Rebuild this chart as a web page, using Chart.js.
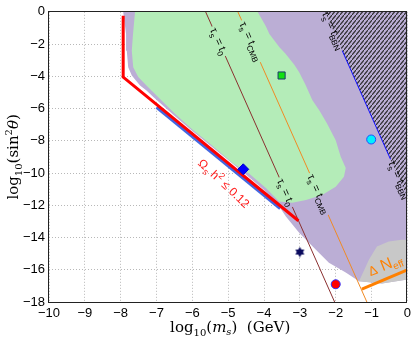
<!DOCTYPE html>
<html>
<head>
<meta charset="utf-8">
<script src="https://cdn.jsdelivr.net/npm/chart.js@4.4.1/dist/chart.umd.min.js"></script>
<style>
  html, body { margin: 0; padding: 0; background: #fff; }
  #wrap { width: 415px; height: 339px; }
</style>
</head>
<body>
<div id="wrap"><canvas id="chart" width="415" height="339"></canvas></div>
<script>
// axis ranges: log10(m_s / GeV) and log10(sin^2 theta)
const massRange = [-10, 0];
const mixRange = [-18, 0];
const massStep = 1;
const mixStep = 2;

// regions, points are [log10 ms, log10 sin^2]
const purpleRegion = [
  [-7.93, 0], [0, 0], [0, -16.6], [-0.71, -16.85], [-1.35, -16.71], [-1.72, -16.17],
  [-2.19, -15.56], [-2.56, -14.75], [-3.02, -13.70], [-3.39, -12.70], [-3.6, -12.0],
  [-4.0, -11.05], [-4.5, -10.1], [-5.0, -9.2], [-5.5, -8.3], [-6.0, -7.4], [-6.5, -6.45],
  [-7.09, -5.29], [-7.28, -4.88], [-7.46, -4.57], [-7.69, -3.95], [-7.79, -3.44],
  [-7.83, -2.41], [-7.85, -1.38], [-7.93, 0]
];
const greenRegion = [
  [-7.6, 0], [-4.18, 0], [-3.95, -0.9], [-3.85, -1.38], [-3.57, -2.2], [-3.4, -2.6],
  [-3.15, -3.3], [-3.02, -3.75], [-2.85, -4.5], [-2.65, -5.49], [-2.46, -6.11],
  [-2.25, -6.9], [-2.0, -7.96], [-1.86, -8.99], [-1.72, -9.69], [-1.77, -10.23],
  [-2.0, -10.85], [-2.38, -11.36], [-2.83, -11.67], [-3.21, -11.85], [-3.58, -11.77],
  [-3.94, -10.95], [-4.41, -10.05], [-4.87, -9.4], [-5.5, -8.2], [-6.0, -7.3],
  [-6.5, -6.3], [-7.0, -5.19], [-7.28, -4.57], [-7.51, -4.05], [-7.65, -3.44],
  [-7.69, -2.41], [-7.66, -1.5], [-7.6, 0]
];
const greyRegion = [
  [-1.35, -16.71], [-1.22, -16.1], [-1.07, -15.37], [-0.85, -14.55], [-0.52, -14.24],
  [-0.16, -14.14], [0, -14.14], [0, -16.6], [-0.71, -16.85], [-1.35, -16.71]
];
const bbnRegion = [[-2.30, 0], [0, 0], [0, -11.5]];

// relic abundance bound and Neff bound
const omegaLine = [[-7.93, -0.25], [-7.93, -4.05], [-3.04, -12.96]];
const omegaBand = [[-7.0, -5.92], [-3.55, -12.2]];
const dNeffLine = [[-1.27, -17.2], [0, -16.0]];

// lifetime lines tau_s = t
const lineT0 = [[-5.63, 0], [-2.03, -18]];
const lineCMB = [[-4.73, 0], [-1.13, -18]];
const lineBBN = [[-2.30, 0], [0, -11.5]];
// heights (log10 sin^2) where the line labels sit
const labelT0 = [-1.83, -11.19];
const labelCMB = [-1.83, -11.3];
const labelBBN = [-1.15, -10.4];

// benchmark points
const ptSquare = [[-3.51, -3.95]];
const ptCyan = [[-1.01, -7.92]];
const ptDiamond = [[-4.58, -9.77]];
const ptStar = [[-3.0, -14.9]];
const ptRed = [[-2.0, -16.9]];

const SANS = '"Liberation Sans", Arial, sans-serif';
const SERIF = '"DejaVu Serif", serif';

const xy = pts => pts.map(p => ({x: p[0], y: p[1]}));

const ctx = document.getElementById('chart').getContext('2d');

function hatchPattern() {
  const c = document.createElement('canvas');
  c.width = 4; c.height = 5;
  const g = c.getContext('2d');
  g.fillStyle = '#bbaed5';
  g.fillRect(0, 0, 4, 5);
  g.strokeStyle = '#2a2a2a';
  g.lineWidth = 1.1;
  g.beginPath();
  g.moveTo(-1, 6.25);
  g.lineTo(5, -1.25);
  g.stroke();
  return ctx.createPattern(c, 'repeat');
}

function starImage() {
  const c = document.createElement('canvas');
  c.width = 11; c.height = 11;
  const g = c.getContext('2d');
  g.fillStyle = '#0b0b5e';
  [-Math.PI / 2, Math.PI / 2].forEach(a0 => {
    g.beginPath();
    for (let k = 0; k < 3; k++) {
      const a = a0 + k * 2 * Math.PI / 3;
      g.lineTo(5.5 + 5.2 * Math.cos(a), 5.5 + 5.2 * Math.sin(a));
    }
    g.closePath();
    g.fill();
  });
  return c;
}

const region = (label, pts, color, order) => ({
  label, data: xy(pts), showLine: true, fill: 'shape', backgroundColor: color,
  borderColor: 'transparent', borderWidth: 0, pointRadius: 0, order
});
const curve = (label, pts, color, width, order) => ({
  label, data: xy(pts), showLine: true, fill: false, borderColor: color,
  borderWidth: width, pointRadius: 0, order
});
const marker = (label, pts, style, radius, bg, border, order) => ({
  label, data: xy(pts), showLine: false, pointStyle: style, pointRadius: radius,
  backgroundColor: bg, borderColor: border, borderWidth: 1, order
});

const tauLabels = [
  {ds: 'tau0', line: lineT0, at: labelT0, sub: '0'},
  {ds: 'tauCMB', line: lineCMB, at: labelCMB, sub: 'CMB'},
  {ds: 'tauBBN', line: lineBBN, at: labelBBN, sub: 'BBN'}
];

function tauParts(sub) {
  return [
    {t: 'τ', font: '11px ' + SANS, dy: 0},
    {t: 's', font: '8px ' + SANS, dy: 3},
    {t: ' = t', font: '11px ' + SANS, dy: 0},
    {t: sub, font: '8px ' + SANS, dy: 3}
  ];
}

function richWidth(c, parts) {
  let w = 0;
  parts.forEach(p => { c.font = p.font; w += c.measureText(p.t).width; });
  return w;
}

function drawRich(c, parts, x, y, angle, color, base) {
  const w = richWidth(c, parts);
  c.save();
  c.translate(x, y);
  c.rotate(angle);
  c.fillStyle = color;
  c.textBaseline = 'alphabetic';
  c.textAlign = 'left';
  let cx = -w / 2;
  parts.forEach(p => {
    c.font = p.font;
    c.fillText(p.t, cx, base + p.dy);
    cx += c.measureText(p.t).width;
  });
  c.restore();
}

function onLine(chart, line, yv) {
  const [[x1, y1], [x2, y2]] = line;
  const xv = x1 + (x2 - x1) * (yv - y1) / (y2 - y1);
  return [chart.scales.x.getPixelForValue(xv), chart.scales.y.getPixelForValue(yv)];
}

function lineAngle(chart, line) {
  const sx = chart.scales.x, sy = chart.scales.y;
  return Math.atan2(sy.getPixelForValue(line[1][1]) - sy.getPixelForValue(line[0][1]),
    sx.getPixelForValue(line[1][0]) - sx.getPixelForValue(line[0][0]));
}

// leave a gap in each lifetime line where its label goes
const lineGaps = {
  id: 'lineGaps',
  beforeDatasetDraw(chart, args) {
    const name = chart.data.datasets[args.index].label;
    const lab = tauLabels.find(l => l.ds === name);
    if (!lab) return;
    const c = chart.ctx;
    const ang = lineAngle(chart, lab.line);
    const half = richWidth(c, tauParts(lab.sub)) / 2 + 2;
    const hh = 6;
    c.save();
    c.beginPath();
    c.rect(0, 0, chart.width, chart.height);
    lab.at.forEach(yv => {
      const [px, py] = onLine(chart, lab.line, yv);
      const ca = Math.cos(ang), sa = Math.sin(ang);
      const corners = [[-half, -hh], [half, -hh], [half, hh], [-half, hh]];
      corners.forEach(([u, v], i) => {
        const X = px + u * ca - v * sa, Y = py + u * sa + v * ca;
        if (i === 0) c.moveTo(X, Y); else c.lineTo(X, Y);
      });
      c.closePath();
    });
    c.clip('evenodd');
    lab.saved = true;
  },
  afterDatasetDraw(chart, args) {
    const name = chart.data.datasets[args.index].label;
    const lab = tauLabels.find(l => l.ds === name);
    if (lab && lab.saved) { chart.ctx.restore(); lab.saved = false; }
  }
};

const annotations = {
  id: 'annotations',
  afterDatasetsDraw(chart) {
    const c = chart.ctx;
    const a = chart.chartArea;
    const sx = chart.scales.x, sy = chart.scales.y;

    c.save();
    c.beginPath();
    c.rect(a.left, a.top, a.right - a.left, a.bottom - a.top);
    c.clip();
    tauLabels.forEach(lab => {
      const ang = lineAngle(chart, lab.line);
      lab.at.forEach(yv => {
        const [px, py] = onLine(chart, lab.line, yv);
        drawRich(c, tauParts(lab.sub), px, py, ang, '#000', 3.5);
      });
    });

    // relic abundance label
    drawRich(c, [
      {t: 'Ω', font: '12px ' + SANS, dy: 0},
      {t: 's', font: '9px ' + SANS, dy: 3},
      {t: ' h', font: '12px ' + SANS, dy: 0},
      {t: '2', font: '9px ' + SANS, dy: -5},
      {t: ' ≤ 0.12', font: '12px ' + SANS, dy: 0}
    ], sx.getPixelForValue(-5.12), sy.getPixelForValue(-10.64), 43 * Math.PI / 180, '#ff1a1a', 4);

    // Neff label
    drawRich(c, [
      {t: 'Δ', font: '13px ' + SANS, dy: 0},
      {t: ' N', font: '16px ' + SANS, dy: 0},
      {t: 'eff', font: '10px ' + SANS, dy: 3}
    ], sx.getPixelForValue(-0.62), sy.getPixelForValue(-15.7), -22 * Math.PI / 180, '#ff8000', 5);
    c.restore();

    // axes box
    c.save();
    c.strokeStyle = '#222';
    c.lineWidth = 1;
    c.strokeRect(Math.round(a.left) - 0.5, Math.round(a.top) - 0.5,
      Math.round(a.right - a.left), Math.round(a.bottom - a.top) + 1);
    c.restore();

    // axis titles
    drawRich(c, [
      {t: 'log', font: '15px ' + SERIF, dy: 0},
      {t: '10', font: '10px ' + SERIF, dy: 4},
      {t: '(', font: '15px ' + SERIF, dy: 0},
      {t: 'm', font: 'italic 15px ' + SERIF, dy: 0},
      {t: 's', font: 'italic 10px ' + SERIF, dy: 3},
      {t: ')  (GeV)', font: '15px ' + SERIF, dy: 0}
    ], (a.left + a.right) / 2 + 2, 332, 0, '#000', 0);

    drawRich(c, [
      {t: 'log', font: '15px ' + SERIF, dy: 0},
      {t: '10', font: '10px ' + SERIF, dy: 4},
      {t: '(sin', font: '15px ' + SERIF, dy: 0},
      {t: '2', font: '10px ' + SERIF, dy: -6},
      {t: 'θ', font: 'italic 15px ' + SERIF, dy: 0},
      {t: ')', font: '15px ' + SERIF, dy: 0}
    ], 18, (a.top + a.bottom) / 2, -Math.PI / 2, '#000', 0);
  }
};

const minus = v => (v < 0 ? '\u2212' + Math.abs(v) : String(v));

new Chart(ctx, {
  type: 'line',
  data: {
    datasets: [
      marker('square', ptSquare, 'rect', 5, '#10e010', '#1a3a6a', 1),
      marker('cyan', ptCyan, 'circle', 4.5, '#00f0ff', '#2050ff', 1),
      marker('diamond', ptDiamond, 'rectRot', 5.5, '#0000ff', '#0000cc', 1),
      marker('star', ptStar, starImage(), 5, '#0b0b5e', '#0b0b5e', 1),
      marker('red', ptRed, 'circle', 4.5, '#ff0000', '#3030ff', 1),
      curve('omega', omegaLine, '#ff0000', 3, 20),
      curve('dNeff', dNeffLine, '#ff8000', 3, 20),
      curve('band', omegaBand, '#4466e0', 3, 25),
      curve('tau0', lineT0, '#8b3030', 1, 30),
      curve('tauCMB', lineCMB, '#f08a24', 1, 30),
      curve('tauBBN', lineBBN, '#1010ff', 1, 30),
      region('bbn', bbnRegion, hatchPattern(), 40),
      region('green', greenRegion, '#b4ecb8', 50),
      region('grey', greyRegion, '#c8c8c8', 55),
      region('purple', purpleRegion, '#bbaed5', 60)
    ]
  },
  options: {
    responsive: false,
    animation: false,
    devicePixelRatio: 1,
    layout: {padding: {left: 0, top: 11, right: 6, bottom: 0}},
    plugins: {legend: {display: false}, tooltip: {enabled: false}},
    elements: {line: {tension: 0}},
    scales: {
      x: {
        type: 'linear', min: massRange[0], max: massRange[1],
        grid: {color: '#b8b8b8', drawTicks: false},
        border: {display: false, dash: [1, 2]},
        ticks: {stepSize: massStep, color: '#000', padding: 4, maxRotation: 0, autoSkip: false,
          font: {family: SANS, size: 13}, callback: minus},
        afterFit: s => { s.height = 37; }
      },
      y: {
        type: 'linear', min: mixRange[0], max: mixRange[1],
        grid: {color: '#b8b8b8', drawTicks: false},
        border: {display: false, dash: [1, 2]},
        ticks: {stepSize: mixStep, color: '#000', padding: 4,
          font: {family: SANS, size: 13}, callback: minus},
        afterFit: s => { s.width = 49; }
      }
    }
  },
  plugins: [lineGaps, annotations]
});
</script>
</body>
</html>
